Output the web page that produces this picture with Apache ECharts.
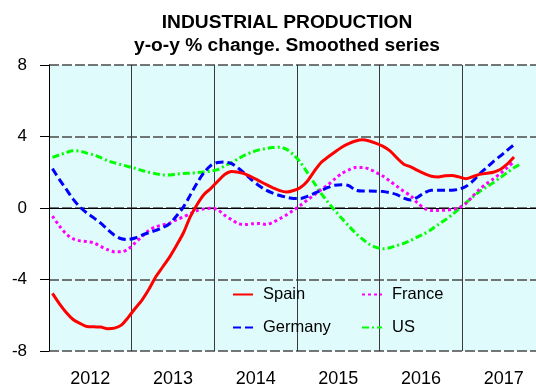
<!DOCTYPE html>
<html>
<head>
<meta charset="utf-8">
<script src="https://cdn.jsdelivr.net/npm/echarts@6/dist/echarts.min.js"></script>
<style>
  html, body { margin: 0; padding: 0; background: #ffffff; }
  #chart { width: 536px; height: 385px; }
</style>
</head>
<body>
<div id="chart"></div>
<script>
// Industrial production, y-o-y % change (smoothed), monthly from Jan 2012
const yearLabels = ['2012', '2013', '2014', '2015', '2016', '2017'];
const startYear = 2012;

const spain = [
  -4.78, -5.35, -5.85, -6.24, -6.45, -6.63, -6.65, -6.66, -6.75, -6.72, -6.55, -6.12,
  -5.62, -5.15, -4.55, -3.85, -3.30, -2.75, -2.10, -1.40, -0.50, 0.20, 0.76, 1.10,
  1.50, 1.87, 2.04, 2.00, 1.90, 1.72, 1.52, 1.32, 1.13, 0.97, 0.90, 0.98,
  1.15, 1.50, 2.05, 2.55, 2.85, 3.13, 3.40, 3.60, 3.75, 3.82, 3.75, 3.62,
  3.45, 3.20, 2.80, 2.45, 2.30, 2.10, 1.92, 1.78, 1.74, 1.80, 1.82, 1.74,
  1.64, 1.75, 1.88, 1.94, 2.00, 2.15, 2.45, 2.85
];
const germany = [
  2.20, 1.60, 1.05, 0.50, 0.05, -0.28, -0.55, -0.85, -1.20, -1.52, -1.72, -1.76,
  -1.68, -1.52, -1.38, -1.25, -1.10, -0.88, -0.45, 0.05, 0.72, 1.40, 1.98, 2.38,
  2.55, 2.57, 2.48, 2.22, 1.90, 1.55, 1.25, 1.00, 0.83, 0.70, 0.60, 0.53,
  0.53, 0.65, 0.82, 0.98, 1.15, 1.27, 1.30, 1.25, 1.00, 0.95, 0.95, 0.94,
  0.92, 0.85, 0.75, 0.55, 0.45, 0.60, 0.85, 0.99, 1.00, 1.00, 1.00, 1.05,
  1.20, 1.50, 1.90, 2.25, 2.60, 2.90, 3.22, 3.54
];
const france = [
  -0.45, -1.00, -1.45, -1.72, -1.84, -1.88, -1.95, -2.15, -2.33, -2.45, -2.45, -2.30,
  -1.95, -1.60, -1.25, -1.05, -0.95, -0.85, -0.66, -0.50, -0.32, -0.15, -0.05, -0.02,
  -0.10, -0.41, -0.65, -0.88, -0.93, -0.88, -0.87, -0.92, -0.80, -0.60, -0.38, -0.12,
  0.15, 0.45, 0.73, 1.02, 1.30, 1.63, 1.93, 2.13, 2.27, 2.27, 2.18, 1.98,
  1.78, 1.50, 1.22, 0.93, 0.68, 0.28, -0.02, -0.14, -0.14, -0.12, -0.08, 0.00,
  0.25, 0.65, 1.05, 1.35, 1.63, 1.92, 2.25, 2.60
];
const us = [
  2.83, 2.97, 3.10, 3.20, 3.18, 3.07, 2.97, 2.82, 2.65, 2.53, 2.42, 2.32,
  2.22, 2.10, 2.00, 1.92, 1.85, 1.85, 1.90, 1.93, 1.95, 1.98, 2.02, 2.07,
  2.15, 2.35, 2.54, 2.76, 2.97, 3.13, 3.25, 3.33, 3.38, 3.40, 3.28, 2.98,
  2.55, 1.98, 1.40, 0.82, 0.33, -0.14, -0.58, -1.00, -1.40, -1.74, -2.03, -2.20,
  -2.28, -2.22, -2.10, -1.98, -1.82, -1.62, -1.44, -1.20, -0.93, -0.67, -0.38, -0.05,
  0.28, 0.62, 0.92, 1.17, 1.42, 1.70, 1.98, 2.25, 2.48
];

// place each monthly value at the middle of its month
function monthly(values) {
  return values.map((v, i) => [startYear + (i + 0.5) / 12, v]);
}

const FONT = '"Liberation Sans", Arial, sans-serif';

const chart = echarts.init(document.getElementById('chart'), null, { renderer: 'canvas' });

function lineSeries(name, values, color, dash, z) {
  return {
    name: name,
    type: 'line',
    xAxisIndex: 0,
    data: monthly(values),
    smooth: 0.3,
    symbol: 'none',
    z: z,
    lineStyle: { color: color, width: 3, type: dash, cap: 'butt' },
    itemStyle: { color: color }
  };
}

const legendBase = {
  orient: 'vertical',
  top: 286,
  padding: 0,
  itemWidth: 20,
  itemHeight: 14,
  itemGap: 16,
  itemStyle: { opacity: 0 },
  textStyle: { fontFamily: FONT, fontSize: 16.5, color: '#000000', padding: [0, 0, 0, 5] }
};

chart.setOption({
  animation: false,
  backgroundColor: '#ffffff',
  title: {
    text: 'INDUSTRIAL PRODUCTION\ny-o-y % change. Smoothed series',
    left: 282,
    top: 6,
    textAlign: 'center',
    textStyle: {
      fontFamily: FONT,
      fontWeight: 'bold',
      fontSize: 19.2,
      lineHeight: 23,
      color: '#000000'
    }
  },
  grid: {
    left: 49,
    top: 65,
    right: -9,
    bottom: 34,
    outerBoundsMode: 'none',
    containLabel: false,
    show: true,
    backgroundColor: '#E0FBFB',
    borderWidth: 0
  },
  legend: [
    Object.assign({ data: ['Spain', 'Germany'], left: 232 }, legendBase),
    Object.assign({ data: ['France', 'US'], left: 361 }, legendBase)
  ],
  xAxis: [
    {
      type: 'value',
      position: 'bottom',
      min: startYear,
      max: startYear + yearLabels.length,
      interval: 1,
      axisLine: { show: true, lineStyle: { color: '#000000', width: 1 } },
      axisTick: { show: false },
      axisLabel: { show: false },
      splitLine: { show: true, lineStyle: { color: '#3a3a3a', width: 1, type: 'solid' } }
    },
    {
      type: 'category',
      position: 'bottom',
      data: yearLabels,
      boundaryGap: true,
      axisLine: { show: false },
      axisTick: { show: false },
      splitLine: { show: false },
      axisLabel: { fontFamily: FONT, fontSize: 18, color: '#000000', margin: 19 }
    }
  ],
  yAxis: {
    type: 'value',
    min: -8,
    max: 8,
    interval: 4,
    axisLine: { show: true, lineStyle: { color: '#000000', width: 1 } },
    axisTick: { show: true, length: 9, lineStyle: { color: '#000000', width: 1 } },
    axisLabel: { fontFamily: FONT, fontSize: 17, color: '#000000', margin: 22 },
    splitLine: { show: true, lineStyle: { color: '#4a4a4a', width: 1.5, type: [10, 3] } }
  },
  series: [
    lineSeries('Spain', spain, '#FF0000', 'solid', 5),
    lineSeries('Germany', germany, '#0000FF', [8, 4], 4),
    lineSeries('France', france, '#FF00FF', [3, 3], 3),
    lineSeries('US', us, '#00FF00', [7, 3, 2, 3], 2)
  ]
});
</script>
</body>
</html>
